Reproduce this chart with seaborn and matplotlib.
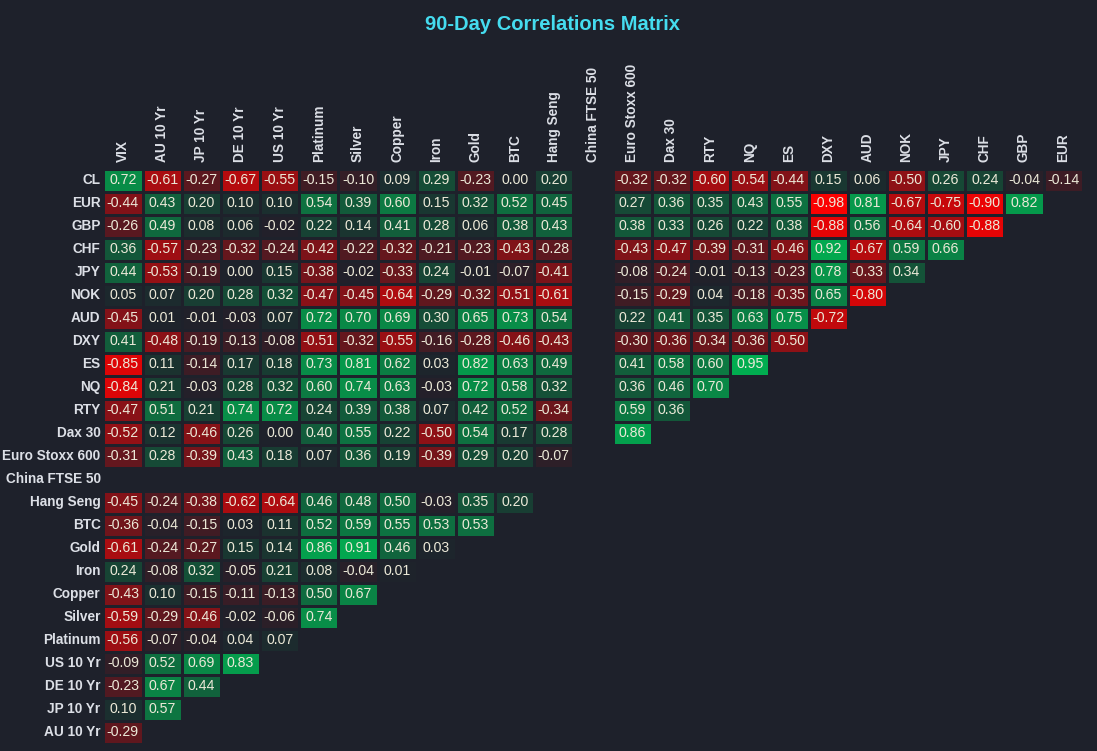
import numpy as np
import pandas as pd
import matplotlib.pyplot as plt
import seaborn as sns
from matplotlib.colors import LinearSegmentedColormap

# Colours
BG = '#1e212b'
TITLE = '#45dcef'
LABEL = '#dcdfe6'
NUM = '#ece9d8'

plt.rcParams['font.family'] = ['Liberation Sans', 'DejaVu Sans']

# Labels
row_labels = ['CL', 'EUR', 'GBP', 'CHF', 'JPY', 'NOK', 'AUD', 'DXY', 'ES', 'NQ', 'RTY',
              'Dax 30', 'Euro Stoxx 600', 'China FTSE 50', 'Hang Seng', 'BTC', 'Gold',
              'Iron', 'Copper', 'Silver', 'Platinum', 'US 10 Yr', 'DE 10 Yr',
              'JP 10 Yr', 'AU 10 Yr']
col_labels = ['VIX', 'AU 10 Yr', 'JP 10 Yr', 'DE 10 Yr', 'US 10 Yr', 'Platinum', 'Silver',
              'Copper', 'Iron', 'Gold', 'BTC', 'Hang Seng', 'China FTSE 50',
              'Euro Stoxx 600', 'Dax 30', 'RTY', 'NQ', 'ES', 'DXY', 'AUD', 'NOK', 'JPY',
              'CHF', 'GBP', 'EUR']

# Correlation values per row (None = no data)
cl = [0.72, -0.61, -0.27, -0.67, -0.55, -0.15, -0.10, 0.09, 0.29, -0.23, 0.00, 0.20, None,
      -0.32, -0.32, -0.60, -0.54, -0.44, 0.15, 0.06, -0.50, 0.26, 0.24, -0.04, -0.14]
eur = [-0.44, 0.43, 0.20, 0.10, 0.10, 0.54, 0.39, 0.60, 0.15, 0.32, 0.52, 0.45, None,
       0.27, 0.36, 0.35, 0.43, 0.55, -0.98, 0.81, -0.67, -0.75, -0.90, 0.82]
gbp = [-0.26, 0.49, 0.08, 0.06, -0.02, 0.22, 0.14, 0.41, 0.28, 0.06, 0.38, 0.43, None,
       0.38, 0.33, 0.26, 0.22, 0.38, -0.88, 0.56, -0.64, -0.60, -0.88]
chf = [0.36, -0.57, -0.23, -0.32, -0.24, -0.42, -0.22, -0.32, -0.21, -0.23, -0.43, -0.28, None,
       -0.43, -0.47, -0.39, -0.31, -0.46, 0.92, -0.67, 0.59, 0.66]
jpy = [0.44, -0.53, -0.19, 0.00, 0.15, -0.38, -0.02, -0.33, 0.24, -0.01, -0.07, -0.41, None,
       -0.08, -0.24, -0.01, -0.13, -0.23, 0.78, -0.33, 0.34]
nok = [0.05, 0.07, 0.20, 0.28, 0.32, -0.47, -0.45, -0.64, -0.29, -0.32, -0.51, -0.61, None,
       -0.15, -0.29, 0.04, -0.18, -0.35, 0.65, -0.80]
aud = [-0.45, 0.01, -0.01, -0.03, 0.07, 0.72, 0.70, 0.69, 0.30, 0.65, 0.73, 0.54, None,
       0.22, 0.41, 0.35, 0.63, 0.75, -0.72]
dxy = [0.41, -0.48, -0.19, -0.13, -0.08, -0.51, -0.32, -0.55, -0.16, -0.28, -0.46, -0.43, None,
       -0.30, -0.36, -0.34, -0.36, -0.50]
es = [-0.85, 0.11, -0.14, 0.17, 0.18, 0.73, 0.81, 0.62, 0.03, 0.82, 0.63, 0.49, None,
      0.41, 0.58, 0.60, 0.95]
nq = [-0.84, 0.21, -0.03, 0.28, 0.32, 0.60, 0.74, 0.63, -0.03, 0.72, 0.58, 0.32, None,
      0.36, 0.46, 0.70]
rty = [-0.47, 0.51, 0.21, 0.74, 0.72, 0.24, 0.39, 0.38, 0.07, 0.42, 0.52, -0.34, None,
       0.59, 0.36]
dax = [-0.52, 0.12, -0.46, 0.26, 0.00, 0.40, 0.55, 0.22, -0.50, 0.54, 0.17, 0.28, None, 0.86]
stoxx = [-0.31, 0.28, -0.39, 0.43, 0.18, 0.07, 0.36, 0.19, -0.39, 0.29, 0.20, -0.07, None]
china = [None] * 12
hang_seng = [-0.45, -0.24, -0.38, -0.62, -0.64, 0.46, 0.48, 0.50, -0.03, 0.35, 0.20]
btc = [-0.36, -0.04, -0.15, 0.03, 0.11, 0.52, 0.59, 0.55, 0.53, 0.53]
gold = [-0.61, -0.24, -0.27, 0.15, 0.14, 0.86, 0.91, 0.46, 0.03]
iron = [0.24, -0.08, 0.32, -0.05, 0.21, 0.08, -0.04, 0.01]
copper = [-0.43, 0.10, -0.15, -0.11, -0.13, 0.50, 0.67]
silver = [-0.59, -0.29, -0.46, -0.02, -0.06, 0.74]
platinum = [-0.56, -0.07, -0.04, 0.04, 0.07]
us10 = [-0.09, 0.52, 0.69, 0.83]
de10 = [-0.23, 0.67, 0.44]
jp10 = [0.10, 0.57]
au10 = [-0.29]

rows = [cl, eur, gbp, chf, jpy, nok, aud, dxy, es, nq, rty, dax, stoxx, china,
        hang_seng, btc, gold, iron, copper, silver, platinum, us10, de10, jp10, au10]

n = len(col_labels)
corr = pd.DataFrame([r + [None] * (n - len(r)) for r in rows],
                    index=row_labels, columns=col_labels, dtype=float)

cmap = LinearSegmentedColormap.from_list('rg', ['#ff0000', BG, '#00b452'])

fig = plt.figure(figsize=(10.97, 7.51), dpi=100, facecolor=BG)
ax = fig.add_axes([0.0942, 0.0097, 0.8928, 0.7653])
ax.set_facecolor(BG)

sns.heatmap(corr, ax=ax, cmap=cmap, vmin=-1, vmax=1, cbar=False,
            annot=True, fmt='.2f', annot_kws={'fontsize': 10.2, 'color': NUM},
            linewidths=2, linecolor=BG)

ax.xaxis.tick_top()
ax.set_xlabel('')
ax.set_ylabel('')
ax.set_xticklabels(col_labels, rotation=90, fontsize=9.8, fontweight='bold', color=LABEL)
ax.set_yticklabels(row_labels, rotation=0, fontsize=9.8, fontweight='bold', color=LABEL)
ax.tick_params(axis='x', length=0, pad=5)
ax.tick_params(axis='y', length=0, pad=2)
for s in ax.spines.values():
    s.set_visible(False)

fig.text(0.504, 0.967, '90-Day Correlations Matrix', ha='center', va='center',
         fontsize=14.5, fontweight='bold', color=TITLE)

fig.savefig('out.png', dpi=100, facecolor=BG)
